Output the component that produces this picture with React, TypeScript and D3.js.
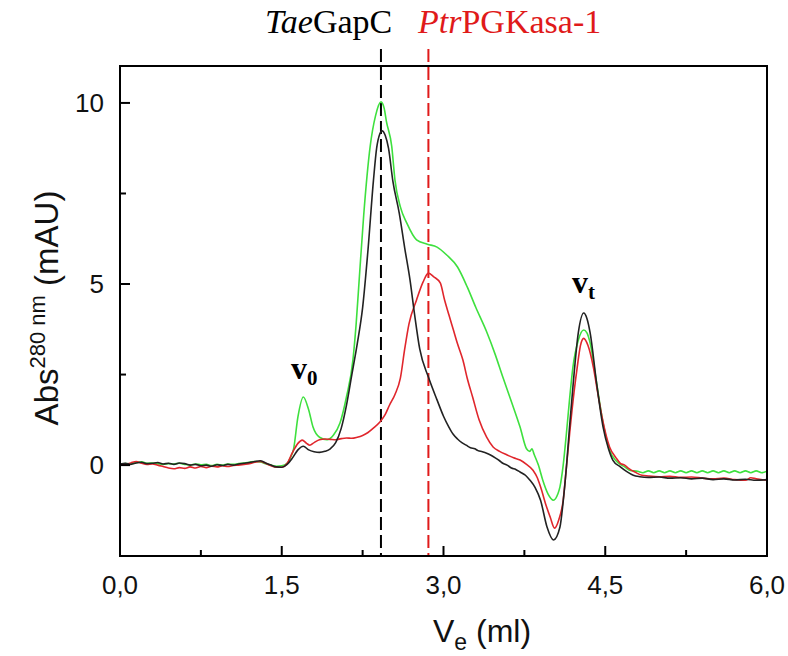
import React from "react";
import * as d3 from "d3";

// ---- data (Ve in ml, absorbance in mAU) ----
const taeGapC: [number, number][] = [
  [0.00,0.03],[0.05,0.05],[0.10,0.02],[0.15,0.06],[0.20,0.08],[0.25,0.04],[0.30,0.05],[0.35,0.07],[0.40,0.03],[0.45,0.05],
  [0.50,0.02],[0.55,0.06],[0.60,0.04],[0.65,0.00],[0.70,0.02],[0.75,-0.02],[0.80,0.00],[0.85,-0.03],[0.90,0.01],[0.95,-0.01],
  [1.00,0.02],[1.05,0.00],[1.10,0.03],[1.15,0.05],[1.20,0.07],[1.25,0.10],[1.30,0.12],[1.35,0.06],[1.40,0.00],[1.45,-0.05],
  [1.50,-0.06],[1.55,0.02],[1.60,0.20],[1.65,0.42],[1.70,0.52],[1.75,0.42],[1.80,0.37],[1.85,0.35],[1.90,0.38],[1.95,0.45],
  [2.00,0.62],[2.05,1.00],[2.10,1.65],[2.15,2.50],[2.20,3.35],[2.25,4.35],[2.30,5.95],[2.35,7.85],[2.38,8.75],[2.41,9.15],
  [2.43,9.23],[2.46,9.10],[2.49,8.75],[2.53,7.85],[2.59,6.95],[2.64,6.00],[2.69,5.10],[2.73,4.20],[2.78,3.20],[2.86,2.43],
  [2.94,1.80],[3.00,1.35],[3.05,1.05],[3.09,0.85],[3.13,0.72],[3.17,0.62],[3.21,0.55],[3.25,0.48],[3.29,0.45],[3.32,0.40],
  [3.36,0.37],[3.40,0.33],[3.44,0.27],[3.48,0.20],[3.52,0.12],[3.55,0.05],[3.59,0.00],[3.63,-0.08],[3.67,-0.12],[3.71,-0.19],
  [3.76,-0.28],[3.80,-0.41],[3.85,-0.62],[3.90,-0.97],[3.96,-1.71],[4.02,-2.07],[4.08,-1.71],[4.11,-1.00],[4.14,-0.05],[4.17,1.10],
  [4.20,2.15],[4.25,3.65],[4.30,4.20],[4.33,4.05],[4.36,3.65],[4.42,2.26],[4.48,1.05],[4.53,0.45],[4.57,0.14],[4.64,-0.05],
  [4.70,-0.18],[4.76,-0.28],[4.82,-0.32],[4.90,-0.34],[5.00,-0.33],[5.10,-0.36],[5.20,-0.35],[5.30,-0.38],[5.40,-0.36],[5.50,-0.40],
  [5.60,-0.38],[5.70,-0.41],[5.80,-0.39],[5.90,-0.42],[6.00,-0.40],
];

const ptrPGKasa: [number, number][] = [
  [0.00,0.00],[0.05,0.02],[0.10,0.06],[0.15,0.10],[0.20,0.05],[0.25,0.02],[0.30,0.03],[0.35,0.00],[0.40,-0.04],[0.45,-0.08],
  [0.50,-0.10],[0.55,-0.07],[0.60,-0.09],[0.65,-0.05],[0.70,-0.08],[0.75,-0.04],[0.80,-0.07],[0.85,-0.03],[0.90,-0.05],[0.95,-0.02],
  [1.00,-0.04],[1.05,-0.01],[1.10,0.00],[1.15,0.02],[1.20,0.04],[1.25,0.08],[1.30,0.10],[1.35,0.05],[1.40,-0.02],[1.45,-0.06],
  [1.50,-0.06],[1.55,0.05],[1.60,0.35],[1.65,0.60],[1.69,0.69],[1.73,0.60],[1.76,0.55],[1.80,0.62],[1.85,0.70],[1.90,0.72],
  [1.95,0.71],[2.00,0.70],[2.05,0.73],[2.10,0.75],[2.15,0.74],[2.20,0.77],[2.25,0.82],[2.30,0.90],[2.35,1.02],[2.41,1.19],
  [2.46,1.40],[2.50,1.66],[2.55,1.95],[2.60,2.40],[2.64,3.20],[2.68,3.90],[2.75,4.56],[2.81,5.05],[2.86,5.30],[2.91,5.20],
  [2.97,5.03],[3.01,4.56],[3.05,4.15],[3.09,3.75],[3.13,3.35],[3.18,2.90],[3.22,2.40],[3.27,1.88],[3.33,1.25],[3.40,0.77],
  [3.46,0.50],[3.52,0.38],[3.59,0.28],[3.65,0.20],[3.71,0.14],[3.77,0.02],[3.83,-0.14],[3.87,-0.35],[3.90,-0.60],[3.95,-1.10],
  [3.99,-1.44],[4.03,-1.74],[4.07,-1.50],[4.11,-0.97],[4.14,-0.05],[4.17,0.88],[4.21,2.00],[4.24,2.70],[4.27,3.30],[4.30,3.50],
  [4.34,3.30],[4.39,2.70],[4.43,2.00],[4.47,1.33],[4.54,0.50],[4.60,0.20],[4.64,0.05],[4.68,0.00],[4.72,-0.10],[4.78,-0.20],
  [4.84,-0.28],[4.90,-0.30],[5.00,-0.32],[5.10,-0.31],[5.20,-0.34],[5.30,-0.33],[5.40,-0.36],[5.50,-0.38],[5.60,-0.36],[5.70,-0.40],
  [5.80,-0.42],[5.85,-0.35],[5.90,-0.38],[6.00,-0.42],
];

const mixture: [number, number][] = [
  [0.00,0.02],[0.05,0.04],[0.10,0.03],[0.15,0.07],[0.20,0.09],[0.25,0.05],[0.30,0.06],[0.35,0.04],[0.40,0.02],[0.45,0.04],
  [0.50,0.03],[0.55,0.05],[0.60,0.02],[0.65,0.00],[0.70,0.03],[0.75,0.01],[0.80,0.02],[0.85,-0.01],[0.90,0.02],[0.95,0.00],
  [1.00,0.03],[1.05,0.02],[1.10,0.04],[1.15,0.06],[1.20,0.08],[1.25,0.10],[1.30,0.09],[1.35,0.04],[1.40,0.00],[1.45,-0.03],
  [1.50,-0.02],[1.55,0.05],[1.58,0.20],[1.61,0.45],[1.65,1.33],[1.70,1.88],[1.75,1.52],[1.79,1.05],[1.85,0.77],[1.92,0.70],
  [1.98,0.83],[2.04,1.16],[2.10,1.88],[2.16,2.90],[2.19,3.90],[2.22,5.20],[2.26,6.90],[2.32,8.80],[2.37,9.65],[2.42,10.03],
  [2.45,9.85],[2.47,9.50],[2.52,8.80],[2.55,7.87],[2.60,7.13],[2.66,6.68],[2.75,6.22],[2.85,6.10],[2.94,6.02],[3.03,5.80],
  [3.13,5.47],[3.22,4.92],[3.30,4.35],[3.40,3.68],[3.48,3.05],[3.55,2.43],[3.63,1.75],[3.71,1.05],[3.77,0.45],[3.80,0.38],
  [3.82,0.45],[3.84,0.30],[3.88,0.00],[3.92,-0.41],[3.97,-0.80],[4.02,-0.97],[4.06,-0.80],[4.08,-0.60],[4.11,0.00],[4.14,0.88],
  [4.17,1.85],[4.20,2.70],[4.25,3.45],[4.30,3.73],[4.33,3.65],[4.36,3.37],[4.42,2.26],[4.48,1.16],[4.54,0.41],[4.60,0.12],
  [4.64,0.02],[4.68,-0.05],[4.73,-0.15],[4.80,-0.17],[4.85,-0.21],[4.90,-0.16],[4.95,-0.21],[5.00,-0.16],[5.05,-0.21],[5.10,-0.16],
  [5.15,-0.21],[5.20,-0.16],[5.25,-0.21],[5.30,-0.16],[5.35,-0.21],[5.40,-0.16],[5.45,-0.21],[5.50,-0.16],[5.55,-0.21],[5.60,-0.16],
  [5.65,-0.21],[5.70,-0.16],[5.75,-0.21],[5.80,-0.16],[5.85,-0.21],[5.90,-0.16],[5.95,-0.21],[6.00,-0.17],
];

const xMajorTicks = [0, 1.5, 3, 4.5, 6];
const xMinorTicks = [0.75, 2.25, 3.75, 5.25];
const yMajorTicks = [0, 5, 10];
const yMinorTicks = [2.5, 7.5];
const markerVe = [2.42, 2.86];

const W = 788, H = 656;
const L = 120, R = 767, T = 66, B = 556;

export default function App() {
  const x = d3.scaleLinear().domain([0, 6]).range([L, R]);
  const y = d3.scaleLinear().domain([-2.51, 11.02]).range([B, T]);
  const line = d3.line<[number, number]>()
    .x(d => x(d[0]))
    .y(d => y(d[1]))
    .curve(d3.curveMonotoneX);
  const fmtX = (v: number) => d3.format(".1f")(v).replace(".", ",");
  const tickFont = "Liberation Sans, Arial, sans-serif";
  const serif = "Liberation Serif, Times New Roman, serif";
  const series = [
    { data: mixture, color: "#3ee03e" },
    { data: ptrPGKasa, color: "#e0262c" },
    { data: taeGapC, color: "#222222" },
  ];
  return (
    <svg width={W} height={H} style={{ position: "absolute", left: 0, top: 0, background: "#fff" }}>
      <defs>
        <clipPath id="plot">
          <rect x={L} y={T} width={R - L} height={B - T} />
        </clipPath>
      </defs>
      {markerVe.map((v, i) => (
        <line key={i} x1={x(v)} x2={x(v)} y1={49} y2={B}
          stroke={i === 0 ? "#000" : "#e01a1a"} strokeWidth={2} strokeDasharray="13,5" />
      ))}
      <g clipPath="url(#plot)">
        {series.map((s, i) => (
          <path key={i} d={line(s.data) || ""} fill="none" stroke={s.color} strokeWidth={1.6} strokeLinejoin="round" />
        ))}
      </g>
      <rect x={L} y={T} width={R - L} height={B - T} fill="none" stroke="#000" strokeWidth={2} />
      {xMajorTicks.map(v => (
        <g key={"xm" + v}>
          <line x1={x(v)} x2={x(v)} y1={B} y2={B - 10} stroke="#000" strokeWidth={2} />
          <text x={x(v)} y={594} textAnchor="middle" fontFamily={tickFont} fontSize={26} fill="#111">{fmtX(v)}</text>
        </g>
      ))}
      {xMinorTicks.map(v => (
        <line key={"xn" + v} x1={x(v)} x2={x(v)} y1={B} y2={B - 6} stroke="#000" strokeWidth={2} />
      ))}
      {yMajorTicks.map(v => (
        <g key={"ym" + v}>
          <line x1={L} x2={L + 10} y1={y(v)} y2={y(v)} stroke="#000" strokeWidth={2} />
          <text x={104} y={y(v) + 9} textAnchor="end" fontFamily={tickFont} fontSize={26} fill="#111">{v}</text>
        </g>
      ))}
      {yMinorTicks.map(v => (
        <line key={"yn" + v} x1={L} x2={L + 6} y1={y(v)} y2={y(v)} stroke="#000" strokeWidth={2} />
      ))}
      <text x={433} y={642} fontFamily={tickFont} fontSize={32} fill="#111">
        V<tspan fontSize={23} dy={8}>e</tspan><tspan dy={-8}> (ml)</tspan>
      </text>
      <text transform={`translate(58,${308}) rotate(-90)`} textAnchor="middle" fontFamily={tickFont} fontSize={33} fill="#111">
        Abs<tspan fontSize={22} dy={-13}>280 nm</tspan><tspan dy={13}> (mAU)</tspan>
      </text>
      <text x={265} y={33} fontFamily={serif} fontSize={34} fill="#000">
        <tspan fontStyle="italic">Tae</tspan>GapC
      </text>
      <text x={418} y={33} fontFamily={serif} fontSize={34} fill="#e01a1a">
        <tspan fontStyle="italic">Ptr</tspan>PGKasa-1
      </text>
      <text x={291} y={379} fontFamily={serif} fontWeight="bold" fontSize={32} fill="#000">
        v<tspan fontSize={21} dy={6}>0</tspan>
      </text>
      <text x={572} y={293} fontFamily={serif} fontWeight="bold" fontSize={32} fill="#000">
        v<tspan fontSize={21} dy={6}>t</tspan>
      </text>
    </svg>
  );
}
